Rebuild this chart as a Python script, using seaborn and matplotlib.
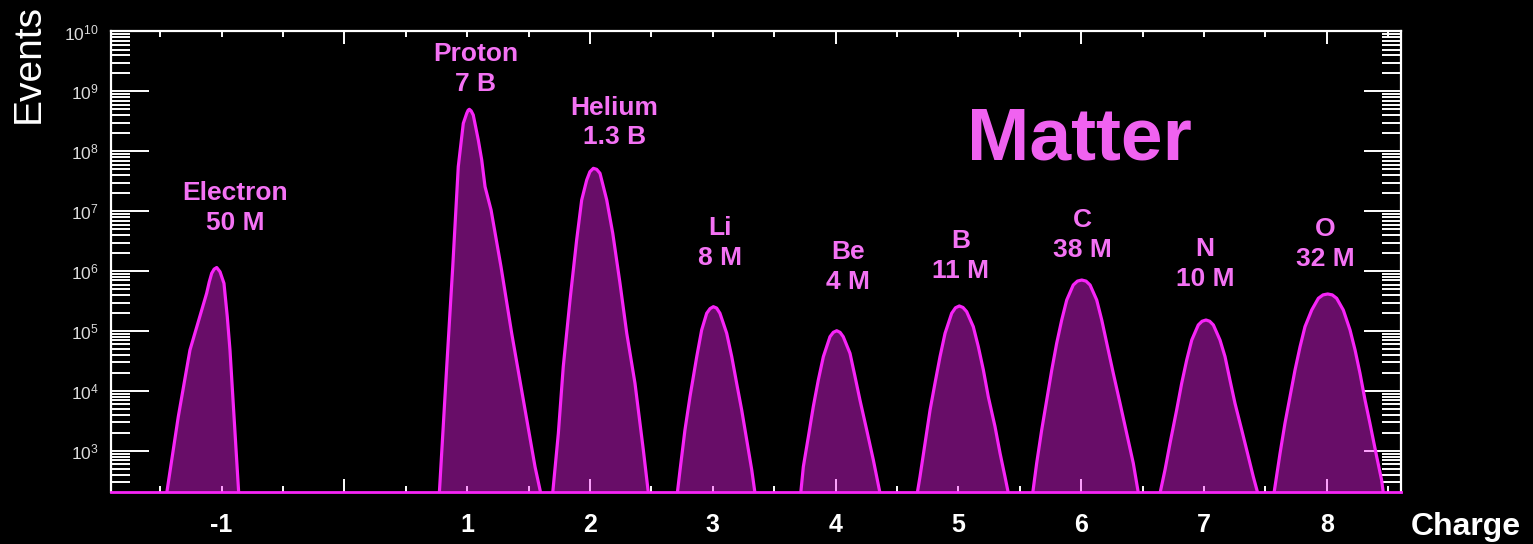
import numpy as np
import pandas as pd
import matplotlib
matplotlib.use("Agg")
import matplotlib.pyplot as plt
from matplotlib.ticker import LogLocator, MultipleLocator, NullFormatter, NullLocator, LogFormatterSciNotation
import seaborn as sns

# ---- Charge spectrum: per species, charge (Z) samples and log10(events) ----
electron_z = [-1.46, -1.446, -1.352, -1.257, -1.121, -1.100, -1.080, -1.060, -1.039, -1.012,
              -0.980, -0.953, -0.931, -0.898, -0.860, -0.850]
electron_log = [2.0, 2.30, 3.572, 4.684, 5.632, 5.820, 5.965, 6.035, 6.062, 5.990,
                5.798, 5.241, 4.684, 3.572, 2.30, 2.0]

proton_z = [0.765, 0.774, 0.834, 0.883, 0.928, 0.969, 0.997, 1.008, 1.018, 1.033, 1.050, 1.091,
            1.119, 1.146, 1.195, 1.276, 1.363, 1.458, 1.553, 1.599, 1.61]
proton_log = [2.0, 2.30, 4.407, 6.075, 7.744, 8.468, 8.635, 8.685, 8.702, 8.675, 8.607, 8.190,
              7.856, 7.410, 7.022, 6.075, 4.964, 3.851, 2.738, 2.30, 2.0]

helium_z = [1.690, 1.697, 1.743, 1.783, 1.838, 1.892, 1.933, 1.974, 2.000, 2.028, 2.055, 2.082,
            2.137, 2.186, 2.245, 2.300, 2.367, 2.435, 2.476, 2.485]
helium_log = [2.0, 2.30, 3.295, 4.407, 5.520, 6.521, 7.188, 7.522, 7.660, 7.717, 7.700, 7.634,
              7.188, 6.633, 5.798, 4.964, 4.130, 3.017, 2.30, 2.0]

lithium_z = [2.705, 2.712, 2.734, 2.774, 2.815, 2.870, 2.910, 2.951, 2.978, 3.005, 3.032, 3.059,
             3.114, 3.155, 3.195, 3.236, 3.277, 3.318, 3.344, 3.352]
lithium_log = [2.0, 2.30, 2.683, 3.351, 3.907, 4.574, 5.019, 5.298, 5.375, 5.408, 5.385, 5.298,
               4.964, 4.574, 4.130, 3.684, 3.184, 2.683, 2.30, 2.0]

beryllium_z = [3.710, 3.717, 3.738, 3.779, 3.819, 3.860, 3.901, 3.955, 3.982, 4.010, 4.037, 4.063,
               4.118, 4.159, 4.199, 4.254, 4.308, 4.362, 4.370]
beryllium_log = [2.0, 2.30, 2.738, 3.239, 3.739, 4.185, 4.574, 4.907, 4.980, 5.007, 4.980, 4.907,
                 4.630, 4.240, 3.851, 3.351, 2.850, 2.30, 2.0]

boron_z = [4.658, 4.666, 4.688, 4.729, 4.770, 4.810, 4.851, 4.892, 4.946, 4.977, 5.008, 5.038,
           5.068, 5.122, 5.163, 5.204, 5.244, 5.299, 5.340, 5.380, 5.407, 5.415]
boron_log = [2.0, 2.30, 2.572, 3.128, 3.684, 4.130, 4.574, 4.964, 5.298, 5.390, 5.420, 5.395,
             5.325, 5.074, 4.741, 4.352, 3.907, 3.406, 2.962, 2.572, 2.30, 2.0]

carbon_z = [5.598, 5.606, 5.638, 5.679, 5.720, 5.761, 5.801, 5.842, 5.883, 5.936, 5.970, 6.005,
            6.040, 6.073, 6.127, 6.168, 6.209, 6.262, 6.317, 6.371, 6.425, 6.466, 6.474]
carbon_log = [2.0, 2.30, 2.795, 3.351, 3.851, 4.352, 4.797, 5.186, 5.520, 5.770, 5.835, 5.853,
              5.835, 5.770, 5.520, 5.186, 4.797, 4.297, 3.796, 3.295, 2.795, 2.30, 2.0]

nitrogen_z = [6.635, 6.643, 6.683, 6.724, 6.778, 6.819, 6.860, 6.901, 6.954, 6.985, 7.017, 7.047,
              7.077, 7.131, 7.172, 7.212, 7.253, 7.308, 7.362, 7.402, 7.438, 7.446]
nitrogen_log = [2.0, 2.30, 2.683, 3.128, 3.684, 4.130, 4.519, 4.852, 5.103, 5.165, 5.186, 5.165,
                5.103, 4.852, 4.574, 4.185, 3.796, 3.351, 2.905, 2.572, 2.30, 2.0]

oxygen_z = [7.563, 7.571, 7.620, 7.660, 7.701, 7.742, 7.783, 7.823, 7.878, 7.932, 7.970, 8.008,
            8.045, 8.081, 8.135, 8.190, 8.231, 8.271, 8.312, 8.352, 8.407, 8.447, 8.461, 8.469]
oxygen_log = [2.0, 2.30, 2.962, 3.462, 3.907, 4.352, 4.741, 5.074, 5.353, 5.548, 5.605, 5.620,
              5.605, 5.548, 5.353, 5.019, 4.684, 4.297, 3.851, 3.462, 2.905, 2.516, 2.30, 2.0]

species = ["Electron", "Proton", "Helium", "Li", "Be", "B", "C", "N", "O"]
totals = ["50 M", "7 B", "1.3 B", "8 M", "4 M", "11 M", "38 M", "10 M", "32 M"]
charge_labels = [-1, 1, 2, 3, 4, 5, 6, 7, 8]

peaks = [(electron_z, electron_log), (proton_z, proton_log), (helium_z, helium_log),
         (lithium_z, lithium_log), (beryllium_z, beryllium_log), (boron_z, boron_log),
         (carbon_z, carbon_log), (nitrogen_z, nitrogen_log), (oxygen_z, oxygen_log)]

frames = []
for name, (z, lg) in zip(species, peaks):
    frames.append(pd.DataFrame({"species": name, "charge": z, "events": 10.0 ** np.asarray(lg)}))
df = pd.concat(frames, ignore_index=True)

# Annotation anchors (charge, log10 height) for the species / total labels
label_anchor = [(-0.89, 7.05), (1.07, 9.37), (2.20, 8.48), (3.06, 6.47), (4.10, 6.07),
                (5.02, 6.25), (6.01, 6.60), (7.01, 6.12), (7.99, 6.45)]

# ---- styling ----
sns.set_theme(style="ticks")
plt.rcParams.update({
    "figure.facecolor": "black",
    "axes.facecolor": "black",
    "savefig.facecolor": "black",
    "axes.edgecolor": "white",
    "mathtext.default": "regular",
    "lines.solid_joinstyle": "round",
    "lines.solid_capstyle": "round",
})
plt.rcParams["font.family"] = ["Liberation Sans", "DejaVu Sans"]

LINE = "#f724f7"
FILL = "#ff22ff"
LABEL = "#f472f4"

fig = plt.figure(figsize=(15.33, 5.44), dpi=100)
ax = fig.add_axes([0.0724, 0.0956, 0.8415, 0.8465])
ax.set_yscale("log")

for name in species:
    sub = df[df["species"] == name]
    ax.fill_between(sub["charge"], sub["events"], 1.0, color=FILL, alpha=0.41,
                    linewidth=0, zorder=2)

sns.lineplot(data=df, x="charge", y="events", hue="species",
             palette={s: LINE for s in species}, estimator=None, sort=False,
             linewidth=2.3, legend=False, ax=ax, zorder=2.2)

ax.set_xlim(-1.90, 8.605)
ax.set_ylim(207, 1e10)
ax.set_xlabel("")
ax.set_ylabel("")
ax.xaxis.label.set_visible(False)

# x ticks: inward on top and bottom, majors every 2, minors every 0.5
ax.xaxis.set_major_locator(MultipleLocator(2))
ax.xaxis.set_minor_locator(MultipleLocator(0.5))
ax.xaxis.set_major_formatter(NullFormatter())
ax.xaxis.set_minor_formatter(NullFormatter())
ax.tick_params(axis="x", which="major", direction="in", length=9.5, width=1.4,
               color="white", top=True, bottom=True, labelbottom=False, labeltop=False)
ax.tick_params(axis="x", which="minor", direction="in", length=4.5, width=1.4,
               color="white", top=True, bottom=True, labelbottom=False, labeltop=False)

# y ticks: decades with dense minor ticks, on both sides
ax.yaxis.set_major_locator(LogLocator(base=10, numticks=20))
ax.yaxis.set_minor_locator(LogLocator(base=10, subs=np.arange(2, 10), numticks=20))
ax.yaxis.set_major_formatter(LogFormatterSciNotation())
ax.yaxis.set_minor_formatter(NullFormatter())
ax.tick_params(axis="y", which="major", direction="in", length=27, width=1.4,
               color="white", left=True, right=True, labelsize=12.5,
               labelcolor="#dcdcdc", pad=9)
ax.tick_params(axis="y", which="minor", direction="in", length=13.5, width=1.4,
               color="white", left=True, right=True)

for side in ["left", "right", "top"]:
    ax.spines[side].set_color("white")
    ax.spines[side].set_linewidth(1.6)
ax.spines["bottom"].set_color(LINE)
ax.spines["bottom"].set_linewidth(2.0)

# charge labels under the axis
sec = ax.secondary_xaxis("bottom")
sec.set_xticks(charge_labels)
sec.set_xticklabels([str(c) for c in charge_labels])
sec.xaxis.set_minor_locator(NullLocator())
sec.tick_params(length=0, pad=15, labelsize=18, labelcolor="white")
for t in sec.get_xticklabels():
    t.set_fontweight("bold")
sec.spines["bottom"].set_visible(False)

# species names and totals
for name, tot, (zx, ly) in zip(species, totals, label_anchor):
    ax.text(zx, 10 ** ly, f"{name}\n{tot}", ha="center", va="center", color=LABEL,
            fontsize=19, fontweight="bold", linespacing=1.3)

ax.text(5.99, 10 ** 8.19, "Matter", ha="center", va="center", color="#f062f0",
        fontsize=54, fontweight="bold")

fig.text(0.019, 0.884, "Events", rotation=90, ha="center", va="center",
         color="white", fontsize=28)
fig.text(0.956, 0.031, "Charge", ha="center", va="center", color="white",
         fontsize=23, fontweight="bold")

fig.savefig("out.png", dpi=100, facecolor="black")
